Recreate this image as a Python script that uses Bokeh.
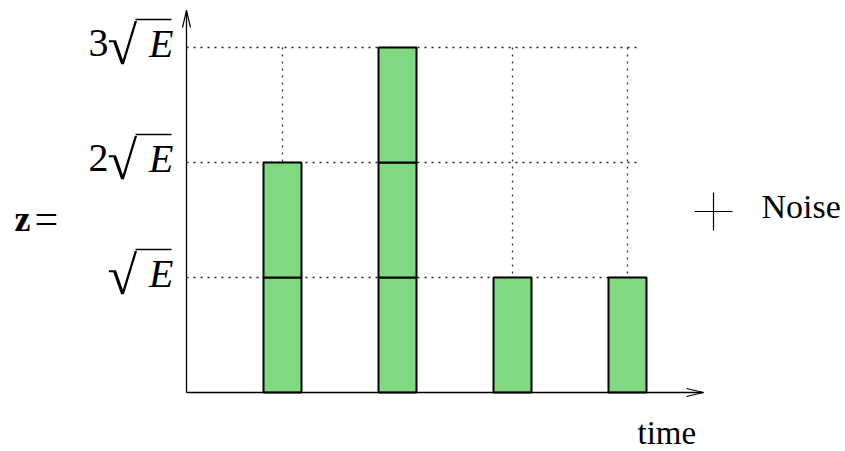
from bokeh.plotting import figure
from bokeh.models import Range1d
from bokeh.core.properties import value
from bokeh.embed import file_html
from bokeh.resources import INLINE

# ---- data -------------------------------------------------------------
times = [1, 2, 3, 4]                 # time slots holding a pulse
amplitudes = [2, 3, 1, 1]            # pulse height in units of sqrt(E)
tick_values = [1, 2, 3]              # y ticks (multiples of sqrt(E))
tick_numbers = ["", "2", "3"]        # coefficient written before sqrt(E)
y_symbol = "E"
left_label = "z="
x_label = "time"
legend_label = "Noise"

# ---- layout helpers (canvas pixels -> data units) ----------------------
W, H = 845, 451
UNIT = 115.0                         # pixels per time slot and per sqrt(E)
X_START = times[0] - 282 / UNIT
X_END = X_START + W / UNIT
Y_END = 392 / UNIT
Y_START = Y_END - H / UNIT
TEXT_LIFT = 12                       # px correction for the text baseline


def dx(px):
    return X_START + px / UNIT


def dy(py):
    return Y_END - py / UNIT


def ty(py):
    """data y for a text whose baseline should sit at canvas row py"""
    return dy(py - TEXT_LIFT)


SERIF = value("Liberation Serif")
BAR_W = 38 / UNIT
GREEN = "#80d980"

p = figure(width=W, height=H, output_backend="svg", toolbar_location=None,
           x_range=Range1d(X_START, X_END), y_range=Range1d(Y_START, Y_END),
           x_axis_location=None, y_axis_location=None, min_border=0)
p.outline_line_color = None
p.background_fill_color = "white"
p.border_fill_color = "white"
p.grid.visible = False

ax_x = dx(186)
grid_right = times[-1] + 0.1
grid_top = max(tick_values)

# dotted guide lines
p.segment(x0=[ax_x] * len(tick_values), y0=tick_values,
          x1=[grid_right] * len(tick_values), y1=tick_values,
          line_color="#222222", line_width=1.3, line_dash="2 5")
p.segment(x0=times, y0=[0] * len(times), x1=times, y1=[grid_top] * len(times),
          line_color="#333333", line_width=1.3, line_dash="2 5")

# stacked unit blocks for each pulse
left, right, bottom, top = [], [], [], []
for t, a in zip(times, amplitudes):
    for k in range(a):
        left.append(t - BAR_W / 2)
        right.append(t + BAR_W / 2)
        bottom.append(k)
        top.append(k + 1)
p.quad(left=left, right=right, bottom=bottom, top=top,
       fill_color=GREEN, line_color="black", line_width=2)

# axes with open arrow heads
x_tip = dx(703)
y_tip = dy(10)
p.segment(x0=[ax_x, ax_x], y0=[0, 0], x1=[x_tip, ax_x], y1=[0, y_tip],
          line_color="black", line_width=1.3)
head_len, head_half = 17 / UNIT, 4 / UNIT
p.multi_line(xs=[[x_tip - head_len, x_tip, x_tip - head_len],
                 [ax_x - head_half, ax_x, ax_x + head_half]],
             ys=[[head_half, 0, -head_half],
                 [y_tip - head_len, y_tip, y_tip - head_len]],
             line_color="black", line_width=1.2)

# y tick labels: coefficient, radical, italic E and the radical's bar
n = len(tick_values)
tick_px = [392 - v * UNIT for v in tick_values]
p.text(x=[dx(108)] * n, y=[ty(py + 7) for py in tick_px],
       text=tick_numbers, text_font=SERIF, text_font_size="40px",
       text_align="right", text_baseline="alphabetic", text_color="black")
p.text(x=[dx(107)] * n, y=[ty(py + 10) for py in tick_px],
       text=["\u221a"] * n, text_font=SERIF, text_font_size="54px",
       text_align="left", text_baseline="alphabetic", text_color="black")
p.text(x=[dx(173)] * n, y=[ty(py + 8) for py in tick_px],
       text=[y_symbol] * n, text_font=SERIF, text_font_size="40px",
       text_font_style="italic", text_align="right", text_baseline="alphabetic",
       text_color="black")
p.segment(x0=[dx(135)] * n, y0=[dy(py - 28) for py in tick_px],
          x1=[dx(171)] * n, y1=[dy(py - 28) for py in tick_px],
          line_color="black", line_width=1.5)

# "z=" on the left
p.text(x=[dx(14)], y=[ty(230)], text=[left_label[0]], text_font=SERIF,
       text_font_size="36px", text_font_style="bold", text_align="left",
       text_baseline="alphabetic", text_color="black")
p.text(x=[dx(34)], y=[ty(230)], text=[left_label[1]], text_font=SERIF,
       text_font_size="42px", text_align="left",
       text_baseline="alphabetic", text_color="black")

# time label under the arrow
p.text(x=[dx(637)], y=[ty(444)], text=[x_label], text_font=SERIF,
       text_font_size="33px", text_align="left", text_baseline="alphabetic",
       text_color="black")

# noise key
p.scatter(x=[dx(713)], y=[dy(211)], marker="cross", size=38,
          line_color="black", line_width=1.2)
p.text(x=[dx(761)], y=[ty(218)], text=[legend_label], text_font=SERIF,
       text_font_size="34px", text_align="left", text_baseline="alphabetic",
       text_color="black")

open("out.html", "w").write(file_html(p, INLINE))
